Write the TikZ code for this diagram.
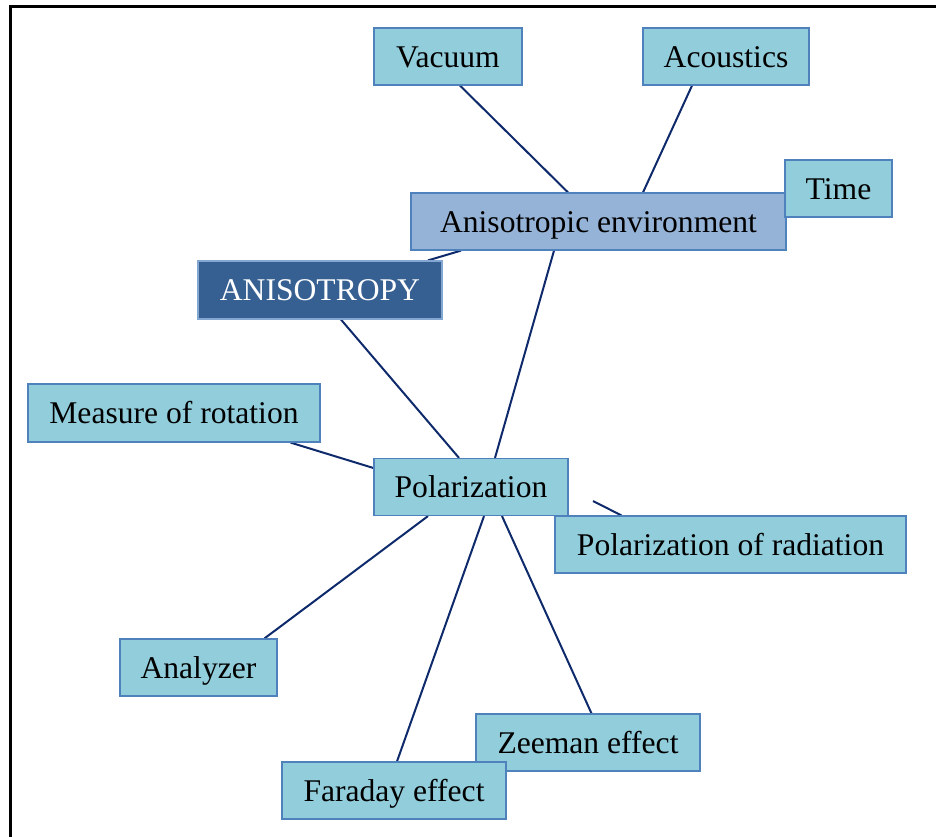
\documentclass[tikz,border=0pt]{standalone}
\usepackage{fontspec}
\setmainfont{Liberation Serif}
\usetikzlibrary{backgrounds}
\definecolor{boxfill}{HTML}{92CDDC}
\definecolor{boxline}{HTML}{4F81BD}
\definecolor{envfill}{HTML}{95B3D7}
\definecolor{anifill}{HTML}{366092}
\definecolor{linkcol}{HTML}{0F2A6B}
\tikzset{
  concept/.style={rectangle, draw=boxline, line width=1.2pt, fill=boxfill, inner sep=0pt,
    text height=21pt, text depth=0pt, font=\fontsize{31.6}{36}\selectfont, text=black},
  envbox/.style={concept, fill=envfill},
  anibox/.style={concept, fill=anifill, draw=boxline!70!white, text=white},
  link/.style={draw=linkcol, line width=2pt},
  frameline/.style={draw=black, line width=2.6pt}
}
\begin{document}
\begin{tikzpicture}[x=1pt,y=-1pt]
\useasboundingbox (0,0) rectangle (936,836);
\draw[frameline] (10.7,840) -- (10.7,6.7) -- (940,6.7);

\node[concept, minimum width=148pt, minimum height=57pt] (vac) at (448,56.5) {Vacuum};
\node[concept, minimum width=166pt, minimum height=57pt] (aco) at (726,56.5) {Acoustics};
\node[envbox, minimum width=375pt, minimum height=57pt] (env) at (598.5,221.5) {Anisotropic environment};
\node[concept, minimum width=107pt, minimum height=57pt] (tim) at (838.5,188.5) {Time};
\node[anibox, minimum width=244pt, minimum height=58pt] (ani) at (320,290) {ANISOTROPY};
\node[concept, minimum width=292pt, minimum height=58pt] (mea) at (174,413) {Measure of rotation};
\node[concept, minimum width=351pt, minimum height=57pt] (prad) at (730.5,544.5) {Polarization of radiation};
\node[concept, minimum width=194pt, minimum height=57pt] (pol) at (471,487) {Polarization};
\node[concept, minimum width=157pt, minimum height=57pt] (ana) at (198.5,667.5) {Analyzer};
\node[concept, minimum width=224pt, minimum height=57pt] (zee) at (588,742.5) {Zeeman effect};
\node[concept, minimum width=224pt, minimum height=57pt] (far) at (394,790.5) {Faraday effect};

\coordinate (pradstub) at (593,501);
\begin{scope}[on background layer]
\draw[link] ([xshift=12pt]vac.south) -- ([xshift=-30.5pt]env.north);
\draw[link] ([xshift=-34pt]aco.south) -- ([xshift=44.5pt]env.north);
\draw[link] ([xshift=-137.5pt]env.south) -- ([xshift=108pt]ani.north);
\draw[link] ([xshift=21pt]ani.south) -- ([xshift=-12pt]pol.north);
\draw[link] ([xshift=-44.5pt]env.south) -- ([xshift=24pt]pol.north);
\draw[link] ([xshift=-30pt]mea.south east) -- ([yshift=19pt]pol.west);
\draw[link] (pradstub) -- ([xshift=67pt]prad.north west);
\draw[link] ([xshift=-43pt]pol.south) -- ([xshift=66pt]ana.north);
\draw[link] ([xshift=13pt]pol.south) -- ([xshift=3pt]far.north);
\draw[link] ([xshift=31pt]pol.south) -- ([xshift=3.5pt]zee.north);
\end{scope}
\end{tikzpicture}
\end{document}
